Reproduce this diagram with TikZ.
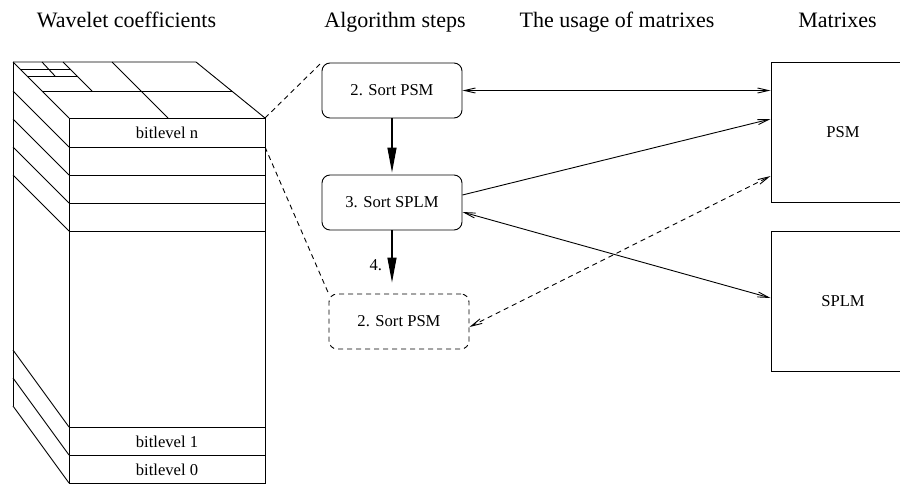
\documentclass[tikz,border=0pt]{standalone}
\usepackage{fontspec}
\setmainfont{Liberation Serif}
\usetikzlibrary{arrows.meta,calc}

\begin{document}
\begin{tikzpicture}[x=1pt,y=-1pt, line width=0.9pt,
  title/.style={anchor=base, font=\fontsize{22}{24}\selectfont},
  lbl/.style={font=\fontsize{16.6}{18}\selectfont},
  stepbox/.style={draw, rounded corners=8pt, minimum width=140pt, minimum height=55pt, inner sep=0pt, lbl},
  matbox/.style={draw, minimum width=144pt, minimum height=140pt, inner sep=0pt, lbl},
  dsh/.style={dash pattern=on 5pt off 4pt},
  barb/.tip={Straight Barb[length=11pt,width=5pt]},
  link/.style={-barb},
  twoway/.style={barb-barb},
  flow/.style={line width=1.3pt, -{Triangle[length=25pt,width=9pt]}}
]
\useasboundingbox (0,0) rectangle (900,485);
\clip (0,0) rectangle (900,485);

% column headings
\node[title] (h1) at (126.5,27) {Wavelet coefficients};
\node[title] (h2) at (395,27) {Algorithm steps};
\node[title] (h3) at (617,27) {The usage of matrixes};
\node[title] (h4) at (837.5,27) {Matrixes};

% ---- block of wavelet coefficients split into bit levels ----
% front face
\draw (69,118) rectangle (265,483);
\foreach \y in {147,175,203,231,427,455}
  \draw (69,\y) -- (265,\y);
\node[lbl] (bn) at (167,132.5) {bitlevel n};
\node[lbl] (b1) at (167,442) {bitlevel 1};
\node[lbl] (b0) at (167,470) {bitlevel 0};
% left face
\draw (13,62) -- (13,406);
\foreach \y in {62,91,119,147,175}
  \draw (13,\y) -- (69,\y+56);
\draw (13,350) -- (69,427);
\draw (13,378) -- (69,455);
\draw (13,406) -- (69,483);
% top face with the subband layout
\draw (13,62) -- (196,62) -- (265,118);
\draw (42,91) -- (232,91);
\draw (27,76) -- (77,76);
\draw (20,69) -- (70,69);
\draw (42,62) -- (55,76);
\draw (63,62) -- (92,91);
\draw (112,62) -- (168,118);
\coordinate (topn) at (265,118);
\coordinate (botn) at (265,147);

% ---- algorithm steps ----
\node[stepbox] (s1) at (392,90.5) {2. Sort PSM};
\node[stepbox] (s2) at (392,202.5) {3. Sort SPLM};
\node[stepbox, dsh] (s3) at (399,321.5) {2. Sort PSM};

\draw[flow, shorten >=2pt] (s1.south) -- (s2.north);
\draw[flow, shorten >=11pt] (s2.south) -- (s2.south |- s3.north)
  node[pos=0.55, left=6pt, lbl] (n4) {4.};

% zoom lines from bit level n to the steps
\draw[dsh] (topn) -- (s1.north west);
\draw[dsh] (botn) -- (s3.north west);

% ---- matrices ----
\node[matbox] (psm) at (843,132) {PSM};
\node[matbox] (splm) at (843,301) {SPLM};

% ---- usage of the matrices ----
\draw[twoway] (s1.east) -- (psm.west |- s1.east);
\draw[link] ([yshift=7.5pt]s2.east) -- ([yshift=13pt]psm.west);
\draw[twoway] ([yshift=-9.5pt]s2.east) -- ([yshift=3pt]splm.west);
\draw[twoway, dsh] ([yshift=-5.5pt]s3.east) -- ([yshift=-44pt]psm.west);
\end{tikzpicture}
\end{document}
